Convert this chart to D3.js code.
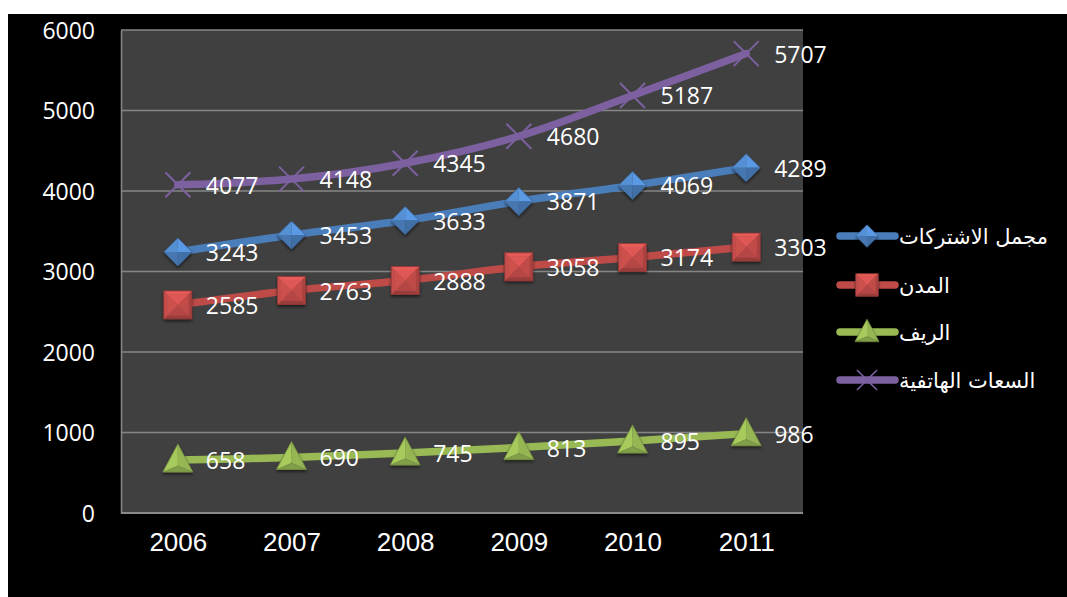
<!DOCTYPE html>
<html>
<head>
<meta charset="utf-8">
<script src="https://cdn.jsdelivr.net/npm/d3@7"></script>
<style>
  html, body { margin: 0; padding: 0; background: #ffffff; }
  svg { display: block; }
</style>
</head>
<body>
<svg id="chart" width="1067" height="597"></svg>
<script>
// Subscriptions by year (thousands)
const years = ["2006", "2007", "2008", "2009", "2010", "2011"];
const yTicks = [0, 1000, 2000, 3000, 4000, 5000, 6000];

const seriesNames = ["مجمل الاشتركات", "المدن", "الريف", "السعات الهاتفية"];
const totalSubs    = [3243, 3453, 3633, 3871, 4069, 4289];
const citySubs     = [2585, 2763, 2888, 3058, 3174, 3303];
const ruralSubs    = [658, 690, 745, 813, 895, 986];
const lineCapacity = [4077, 4148, 4345, 4680, 5187, 5707];

const seriesValues = [totalSubs, citySubs, ruralSubs, lineCapacity];
const seriesColors = ["#4a7ebb", "#be4b48", "#98b954", "#7d60a0"];
const seriesMarkers = ["diamond", "square", "triangle", "cross"];

const svg = d3.select("#chart");
const W = 1067, H = 597;
const plot = { left: 121, right: 803, top: 30, bottom: 513 };

// Shadow used under the bevelled markers
const defs = svg.append("defs");
const shadow = defs.append("filter").attr("id", "mshadow")
  .attr("x", "-50%").attr("y", "-50%").attr("width", "200%").attr("height", "200%");
shadow.append("feDropShadow").attr("dx", 0).attr("dy", 2).attr("stdDeviation", 1.6)
  .attr("flood-color", "#000").attr("flood-opacity", 0.55);

// Black slide background with white margin on the top/left
svg.append("rect").attr("x", 0).attr("y", 0).attr("width", W).attr("height", H).attr("fill", "#ffffff");
svg.append("rect").attr("x", 8).attr("y", 14).attr("width", W - 8).attr("height", H - 14).attr("fill", "#000000");

// Plot area
svg.append("rect")
  .attr("x", plot.left).attr("y", plot.top)
  .attr("width", plot.right - plot.left).attr("height", plot.bottom - plot.top)
  .attr("fill", "#404040");

const x = d3.scalePoint().domain(years).range([plot.left, plot.right]).padding(0.5);
const y = d3.scaleLinear().domain([0, 6000]).range([plot.bottom, plot.top]);

// Horizontal gridlines
svg.append("g").selectAll("line").data(yTicks.filter(t => t > 0)).join("line")
  .attr("x1", plot.left).attr("x2", plot.right)
  .attr("y1", d => y(d)).attr("y2", d => y(d))
  .attr("stroke", "#868686").attr("stroke-width", 1.6);

// Axes
const yAxis = svg.append("g").attr("transform", `translate(${plot.left},0)`)
  .call(d3.axisLeft(y).tickValues(yTicks).tickFormat(d3.format("d")).tickSize(0).tickPadding(26));
yAxis.select(".domain").attr("stroke", "#868686").attr("stroke-width", 1.6);
yAxis.selectAll("text")
  .attr("fill", "#ffffff")
  .attr("font-family", "'Open Sans', sans-serif")
  .attr("font-size", 23)
  .attr("dy", "0.36em");

const xAxis = svg.append("g").attr("transform", `translate(0,${plot.bottom})`)
  .call(d3.axisBottom(x).tickSize(0).tickPadding(20));
xAxis.select(".domain").attr("stroke", "#8a8a8a").attr("stroke-width", 2)
  .attr("d", `M${plot.left},0H${plot.right}`);
xAxis.selectAll("text")
  .attr("fill", "#ffffff")
  .attr("font-family", "'Liberation Sans', Arial, sans-serif")
  .attr("font-size", 26)
  .attr("dy", "0.71em");

// Marker drawing: bevelled facets built around the point (cx, cy)
function shade(color, k) {
  const c = d3.color(color);
  return k >= 0 ? c.brighter(k).formatHex() : c.darker(-k).formatHex();
}

function drawMarker(g, type, cx, cy, color, scale = 1) {
  const m = g.append("g").attr("transform", `translate(${cx},${cy}) scale(${scale})`);
  if (type === "diamond") {
    const r = 14;
    const grp = m.append("g").attr("filter", "url(#mshadow)");
    const facets = [
      { d: `M0,0L${-r},0L0,${-r}Z`, k: 0.35 },
      { d: `M0,0L0,${-r}L${r},0Z`, k: 0.55 },
      { d: `M0,0L${r},0L0,${r}Z`, k: -0.35 },
      { d: `M0,0L0,${r}L${-r},0Z`, k: -0.15 }
    ];
    facets.forEach(f => grp.append("path").attr("d", f.d).attr("fill", shade(color, f.k)));
    grp.append("path").attr("d", `M${-r},0L0,${-r}L${r},0L0,${r}Z`)
      .attr("fill", "none").attr("stroke", shade(color, -0.6)).attr("stroke-width", 0.8);
  } else if (type === "square") {
    const r = 14;
    const grp = m.append("g").attr("filter", "url(#mshadow)");
    const i = 3.5;
    grp.append("rect").attr("x", -r).attr("y", -r).attr("width", 2 * r).attr("height", 2 * r)
      .attr("fill", shade(color, -0.2));
    const facets = [
      { d: `M${-r},${-r}L${r},${-r}L${r - i},${-r + i}L${-r + i},${-r + i}Z`, k: 0.55 },
      { d: `M${r},${-r}L${r},${r}L${r - i},${r - i}L${r - i},${-r + i}Z`, k: -0.3 },
      { d: `M${r},${r}L${-r},${r}L${-r + i},${r - i}L${r - i},${r - i}Z`, k: -0.6 },
      { d: `M${-r},${r}L${-r},${-r}L${-r + i},${-r + i}L${-r + i},${r - i}Z`, k: 0.1 },
      { d: `M${-r + i},${-r + i}L${r - i},${-r + i}L0,0Z`, k: 0.45 },
      { d: `M${r - i},${-r + i}L${r - i},${r - i}L0,0Z`, k: 0.05 },
      { d: `M${r - i},${r - i}L${-r + i},${r - i}L0,0Z`, k: -0.15 },
      { d: `M${-r + i},${r - i}L${-r + i},${-r + i}L0,0Z`, k: 0.2 }
    ];
    facets.forEach(f => grp.append("path").attr("d", f.d).attr("fill", shade(color, f.k)));
    grp.append("rect").attr("x", -r).attr("y", -r).attr("width", 2 * r).attr("height", 2 * r)
      .attr("fill", "none").attr("stroke", shade(color, -0.8)).attr("stroke-width", 0.8);
  } else if (type === "triangle") {
    const w = 15, top = -16, bot = 12;
    const cyc = (top + 2 * bot) / 3 + 3;
    const grp = m.append("g").attr("filter", "url(#mshadow)");
    const facets = [
      { d: `M0,${top}L${-w},${bot}L0,${cyc}Z`, k: 0.25 },
      { d: `M0,${top}L${w},${bot}L0,${cyc}Z`, k: -0.05 },
      { d: `M${-w},${bot}L${w},${bot}L0,${cyc}Z`, k: -0.45 }
    ];
    facets.forEach(f => grp.append("path").attr("d", f.d).attr("fill", shade(color, f.k)));
    grp.append("path").attr("d", `M0,${top}L${w},${bot}L${-w},${bot}Z`)
      .attr("fill", "none").attr("stroke", shade(color, -0.7)).attr("stroke-width", 0.8);
  } else if (type === "cross") {
    const r = 12.5;
    m.append("path")
      .attr("d", `M${-r},${-r}L${r},${r}M${-r},${r}L${r},${-r}`)
      .attr("stroke", color).attr("stroke-width", 2).attr("fill", "none");
  }
}

const line = d3.line()
  .x((d, i) => x(years[i]))
  .y(d => y(d))
  .curve(d3.curveCardinal.tension(0));

const seriesLayer = svg.append("g");
seriesValues.forEach((vals, s) => {
  const g = seriesLayer.append("g");
  g.append("path").datum(vals)
    .attr("d", line)
    .attr("fill", "none")
    .attr("stroke", seriesColors[s])
    .attr("stroke-width", 7.5)
    .attr("stroke-linecap", "round")
    .attr("stroke-linejoin", "round");
  vals.forEach((v, i) => drawMarker(g, seriesMarkers[s], x(years[i]), y(v), seriesColors[s]));
});

// Value labels to the right of each point
const labelLayer = svg.append("g");
seriesValues.forEach((vals) => {
  labelLayer.selectAll(null).data(vals).join("text")
    .attr("x", (d, i) => x(years[i]) + 28)
    .attr("y", d => y(d) + 9)
    .attr("fill", "#ffffff")
    .attr("font-family", "'Open Sans', sans-serif")
    .attr("font-size", 23)
    .text(d => d);
});

// Legend
const legendRows = [236, 285, 332, 380];
const legend = svg.append("g");
seriesNames.forEach((name, s) => {
  const ly = legendRows[s];
  const g = legend.append("g");
  g.append("line")
    .attr("x1", 840).attr("x2", 895).attr("y1", ly).attr("y2", ly)
    .attr("stroke", seriesColors[s]).attr("stroke-width", 7.5).attr("stroke-linecap", "round");
  drawMarker(g, seriesMarkers[s], 867, ly, seriesColors[s], 0.8);
  g.append("text")
    .attr("x", 899).attr("y", ly + 8)
    .attr("fill", "#ffffff")
    .attr("font-family", "'DejaVu Sans', sans-serif")
    .attr("font-size", 21)
    .text(name);
});
</script>
</body>
</html>
